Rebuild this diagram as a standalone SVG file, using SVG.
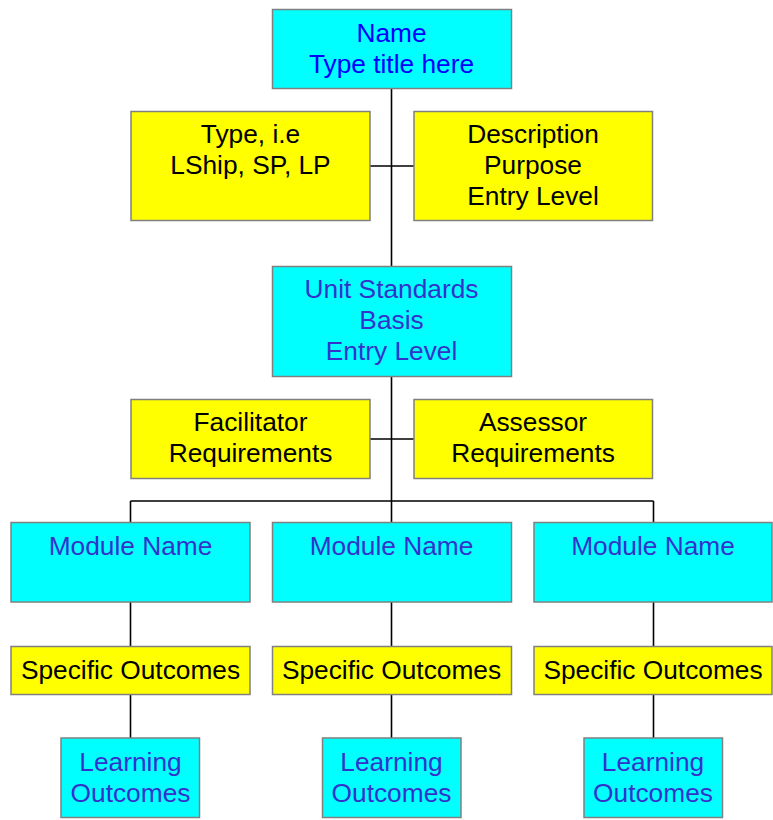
<svg xmlns="http://www.w3.org/2000/svg" width="773" height="820" viewBox="0 0 773 820">
<style>
.c{fill:#00FFFF;stroke:#808080;stroke-width:1.5}
.y{fill:#FFFF00;stroke:#808080;stroke-width:1.5}
text{font-family:"Liberation Sans",Arial,sans-serif;font-size:26.3px;text-anchor:middle}
.tb{fill:#3333CC}
.tk{fill:#000000}
.tn{fill:#0000FF}
.ln{stroke:#000;stroke-width:1.6;fill:none}
</style>
<rect width="773" height="820" fill="#fff"/>
<g id="connectors">
<path class="ln" d="M391.5 88V522.5M369.5 166H414.5M369.5 439H414.5M130.5 501H653.5M130.5 501V522.5M653.5 501V522.5M130.5 602V646M391.5 602V646M653.5 602V646M130.5 694V738M391.5 694V738M653.5 694V738"/>
</g>
<g id="name"><rect class="c" x="272.5" y="9.5" width="239" height="79"/><text class="tn" x="391.5" y="41.5">Name</text><text class="tn" x="391.5" y="72.5">Type title here</text></g>
<g id="type"><rect class="y" x="131" y="111.5" width="239" height="109"/><text class="tk" x="250.5" y="143">Type, i.e</text><text class="tk" x="250.5" y="174">LShip, SP, LP</text></g>
<g id="description"><rect class="y" x="414" y="111.5" width="238.5" height="109"/><text class="tk" x="533" y="143">Description</text><text class="tk" x="533" y="174">Purpose</text><text class="tk" x="533" y="205">Entry Level</text></g>
<g id="unit-standards"><rect class="c" x="272.5" y="266.5" width="239" height="110"/><text class="tb" x="391.5" y="298">Unit Standards</text><text class="tb" x="391.5" y="329">Basis</text><text class="tb" x="391.5" y="360">Entry Level</text></g>
<g id="facilitator"><rect class="y" x="131" y="399.5" width="239" height="79"/><text class="tk" x="250.5" y="431">Facilitator</text><text class="tk" x="250.5" y="462">Requirements</text></g>
<g id="assessor"><rect class="y" x="414" y="399.5" width="238.5" height="79"/><text class="tk" x="533" y="431">Assessor</text><text class="tk" x="533" y="462">Requirements</text></g>
<g id="module1"><rect class="c" x="11" y="522.5" width="239" height="79.5"/><text class="tb" x="130.5" y="555">Module Name</text></g>
<g id="module2"><rect class="c" x="272.5" y="522.5" width="239" height="79.5"/><text class="tb" x="391.5" y="555">Module Name</text></g>
<g id="module3"><rect class="c" x="534" y="522.5" width="238" height="79.5"/><text class="tb" x="653" y="555">Module Name</text></g>
<g id="specific1"><rect class="y" x="11" y="646.5" width="239" height="48"/><text class="tk" x="130.5" y="678.5">Specific Outcomes</text></g>
<g id="specific2"><rect class="y" x="272.5" y="646.5" width="239" height="48"/><text class="tk" x="391.5" y="678.5">Specific Outcomes</text></g>
<g id="specific3"><rect class="y" x="534" y="646.5" width="238" height="48"/><text class="tk" x="653" y="678.5">Specific Outcomes</text></g>
<g id="learning1"><rect class="c" x="61" y="738" width="138.5" height="79.5"/><text class="tb" x="130.5" y="770.5">Learning</text><text class="tb" x="130.5" y="801.5">Outcomes</text></g>
<g id="learning2"><rect class="c" x="322.5" y="738" width="138.5" height="79.5"/><text class="tb" x="391.5" y="770.5">Learning</text><text class="tb" x="391.5" y="801.5">Outcomes</text></g>
<g id="learning3"><rect class="c" x="584" y="738" width="138.5" height="79.5"/><text class="tb" x="653" y="770.5">Learning</text><text class="tb" x="653" y="801.5">Outcomes</text></g>
</svg>
